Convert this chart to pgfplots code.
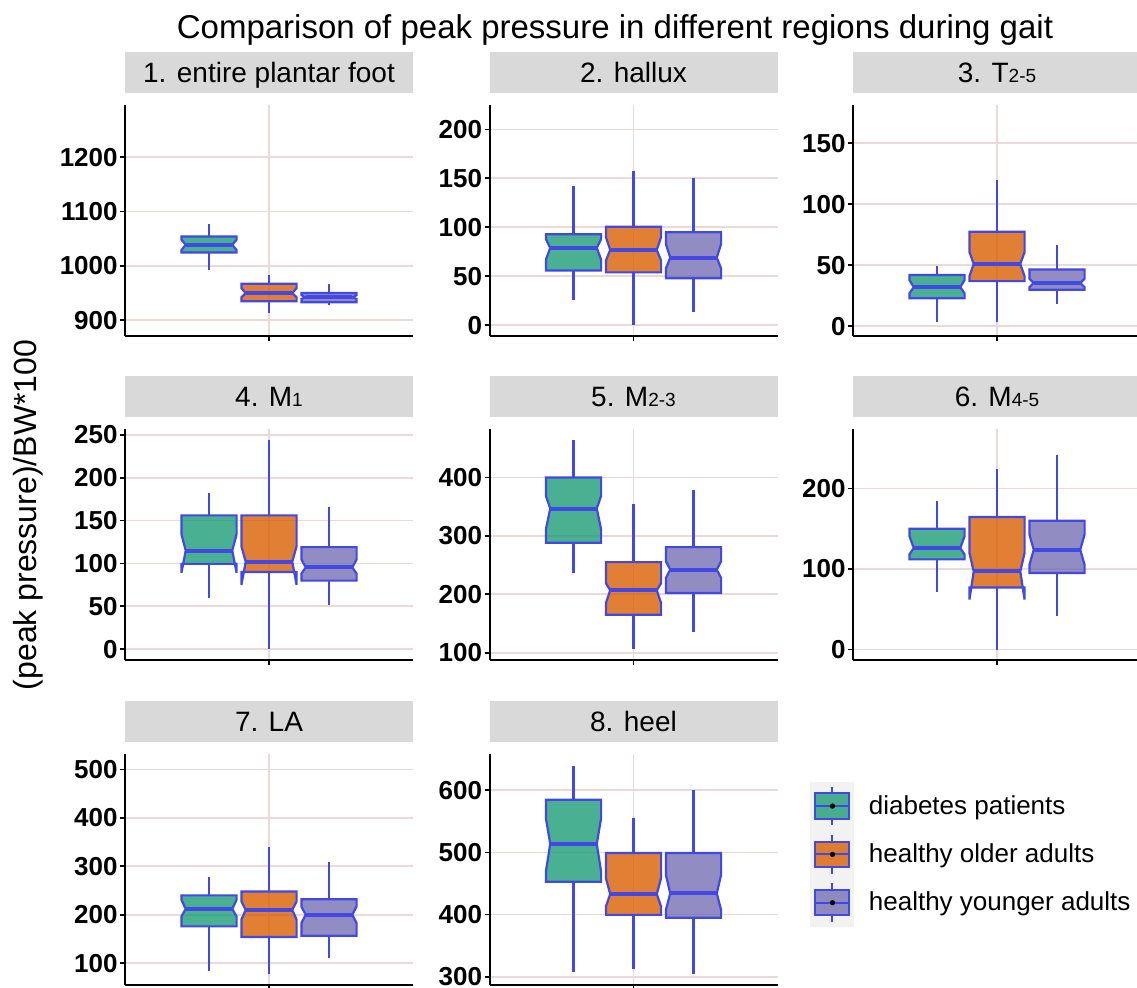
\documentclass[border=0pt]{standalone}
\usepackage{pgfplots}
\pgfplotsset{compat=1.18}
\usepackage{fontspec}
\setmainfont{Liberation Sans}
\definecolor{dgreen}{HTML}{1B9E77}
\definecolor{dorange}{HTML}{D95F02}
\definecolor{dpurple}{HTML}{7570B3}
\definecolor{outl}{RGB}{66,72,228}
\definecolor{gridc}{HTML}{E9D9D9}
\definecolor{stripc}{HTML}{D9D9D9}
\definecolor{keyc}{HTML}{F2F2F2}

% notched box: center, whisker low, q1, notch low, median, notch high, q3, whisker high, colour
\newcommand{\nbox}[9]{%
 \pgfmathsetmacro{\bxL}{#1-0.115}%
 \pgfmathsetmacro{\bxR}{#1+0.115}%
 \pgfmathsetmacro{\bxLi}{#1-0.097}%
 \pgfmathsetmacro{\bxRi}{#1+0.097}%
 \edef\bxcmd{%
  \noexpand\addplot[outl, line width=1.1pt, forget plot] coordinates {(#1,#8) (#1,#7)};
  \noexpand\addplot[outl, line width=1.1pt, forget plot] coordinates {(#1,#3) (#1,#2)};
  \noexpand\addplot[draw=outl, line width=1.1pt, fill=#9, fill opacity=0.8, line join=miter, forget plot] coordinates {(\bxL,#7) (\bxL,#6) (\bxLi,#5) (\bxL,#4) (\bxL,#3) (\bxR,#3) (\bxR,#4) (\bxRi,#5) (\bxR,#6) (\bxR,#7)} --cycle;
  \noexpand\addplot[outl, line width=2pt, forget plot] coordinates {(\bxLi,#5) (\bxRi,#5)};
 }\bxcmd}

\pgfplotsset{
 panel/.style={
  scale only axis, width=144pt, height=115.5pt,
  xmin=0.4, xmax=1.6, xtick={1}, xticklabels={{}},
  axis lines=left, axis line style={-, line width=1pt, black},
  tick align=outside, major tick length=2.5pt, tick style={black, line width=0.9pt},
  xmajorgrids, ymajorgrids, grid style={gridc, line width=0.9pt},
  yticklabel style={font=\fontsize{13}{13}\selectfont\bfseries, inner sep=1pt},
  /pgf/number format/assume math mode=true, /pgf/number format/1000 sep={},
  title style={at={(0.5,1)}, anchor=south, yshift=0pt, fill=stripc,
    minimum width=144pt, minimum height=20.5pt, inner sep=0pt,
    text height=10pt, text depth=0pt, font=\fontsize{14}{14}\selectfont},
 },
 boxkey/.style={legend image code/.code={%
   \fill[keyc] (0pt,-11.875pt) rectangle (21.5pt,11.875pt);
   \draw[outl, line width=1pt] (11pt,6.3pt) -- (11pt,9.6pt);
   \draw[outl, line width=1pt] (11pt,-6.3pt) -- (11pt,-9.6pt);
   \draw[outl, line width=1pt, fill=#1, fill opacity=0.8] (2.5pt,-6.3pt) rectangle (19.5pt,6.3pt);
   \draw[outl, line width=1pt] (2.5pt,0pt) -- (19.5pt,0pt);
   \fill[black] (11pt,0pt) circle (1.1pt);
 }},
}
\newcommand{\sub}[1]{{\fontsize{9.5}{9.5}\selectfont #1}}

\begin{document}
\begin{tikzpicture}
\path (0,0) rectangle (568.5pt,494pt);

% Row 1
\begin{axis}[panel, at={(62.5pt,326pt)}, anchor=south west, ymin=871, ymax=1296,
  ytick={900,1000,1100,1200}, title={1. entire plantar foot}]
\nbox{0.75}{993}{1024.5}{1029}{1039}{1048}{1054}{1077}{dgreen}
\nbox{1}{913}{935}{942}{950}{959}{967}{983}{dorange}
\nbox{1.25}{928}{933}{939}{942}{946}{950}{967}{dpurple}
\end{axis}

\begin{axis}[panel, at={(244.75pt,326pt)}, anchor=south west, ymin=-11, ymax=225,
  ytick={0,50,100,150,200}, title={2. hallux}]
\nbox{0.75}{26}{56}{67}{79}{88}{93}{142}{dgreen}
\nbox{1}{0}{54}{66}{77}{90}{100.5}{158}{dorange}
\nbox{1.25}{14}{48}{58}{69}{83}{95}{150}{dpurple}
\end{axis}

\begin{axis}[panel, at={(426.5pt,326pt)}, anchor=south west, ymin=-8, ymax=181.5,
  ytick={0,50,100,150}, title={3. T\sub{2-5}}]
\nbox{0.75}{3.5}{23}{27}{32}{38}{42}{49}{dgreen}
\nbox{1}{3.5}{37}{41}{51}{61}{77.5}{120}{dorange}
\nbox{1.25}{18}{30}{32}{35.5}{39}{46.5}{67}{dpurple}
\end{axis}

% Row 2
\begin{axis}[panel, at={(62.5pt,164pt)}, anchor=south west, ymin=-12.5, ymax=256.7,
  ytick={0,50,100,150,200,250}, title={4. M\sub{1}}]
\nbox{0.75}{60}{99.5}{89}{115}{134}{156}{182}{dgreen}
\nbox{1}{0}{90}{75}{102}{120}{156}{244}{dorange}
\nbox{1.25}{51}{80}{88}{95.5}{104.5}{119}{166}{dpurple}
\end{axis}

\begin{axis}[panel, at={(244.75pt,164pt)}, anchor=south west, ymin=87.4, ymax=483,
  ytick={100,200,300,400}, title={5. M\sub{2-3}}]
\nbox{0.75}{236.5}{288}{311}{346.7}{368.5}{400}{464}{dgreen}
\nbox{1}{105.7}{165}{185}{206.7}{219}{255}{355}{dorange}
\nbox{1.25}{136}{202}{228}{242}{256.6}{280.7}{379}{dpurple}
\end{axis}

\begin{axis}[panel, at={(426.5pt,164pt)}, anchor=south west, ymin=-13, ymax=274,
  ytick={0,100,200}, title={6. M\sub{4-5}}]
\nbox{0.75}{72}{112}{118}{126}{141}{150}{185}{dgreen}
\nbox{1}{0}{77}{62}{97}{120}{164.6}{224}{dorange}
\nbox{1.25}{42}{95}{105}{124}{143}{160}{242}{dpurple}
\end{axis}

% Row 3
\begin{axis}[panel, at={(62.5pt,1.5pt)}, anchor=south west, ymin=55, ymax=532,
  ytick={100,200,300,400,500}, title={7. LA}]
\nbox{0.75}{83}{176}{196.5}{212}{231}{240}{279}{dgreen}
\nbox{1}{77}{154}{190}{210}{227.6}{248}{339}{dorange}
\nbox{1.25}{110}{156.5}{183}{200}{217}{232}{308}{dpurple}
\end{axis}

\begin{axis}[panel, at={(244.75pt,1.5pt)}, anchor=south west, ymin=286.6, ymax=658.6,
  ytick={300,400,500,600}, title={8. heel}]
\nbox{0.75}{308}{453}{469}{514}{555}{585}{640}{dgreen}
\nbox{1}{312}{399.5}{413}{433}{458.6}{499}{556}{dorange}
\nbox{1.25}{305}{395}{407.5}{434}{464}{499}{600}{dpurple}
\end{axis}

% Legend
\begin{axis}[scale only axis, width=144pt, height=115.5pt, at={(426.5pt,1.5pt)}, anchor=south west,
  hide axis, xmin=0, xmax=1, ymin=0, ymax=1,
  legend style={at={(-0.149,0.879)}, anchor=north west, draw=none, fill=none,
    inner sep=0pt, outer sep=0pt, row sep=0pt, column sep=7.5pt,
    font=\fontsize{13}{15}\selectfont, nodes={inner sep=0pt, outer sep=0pt}},
  legend cell align=left]
\addlegendimage{boxkey=dgreen}
\addlegendentry{diabetes patients}
\addlegendimage{boxkey=dorange}
\addlegendentry{healthy older adults}
\addlegendimage{boxkey=dpurple}
\addlegendentry{healthy younger adults}
\end{axis}

\node[anchor=base, font=\fontsize{16.5}{16.5}\selectfont] at (307.5pt,474.5pt)
  {Comparison of peak pressure in different regions during gait};
\node[rotate=90, font=\fontsize{16}{16}\selectfont] at (14pt,236.5pt) {(peak pressure)/BW*100};

\pgfresetboundingbox
\useasboundingbox (0,0) rectangle (568.5pt,494pt);
\end{tikzpicture}
\end{document}
